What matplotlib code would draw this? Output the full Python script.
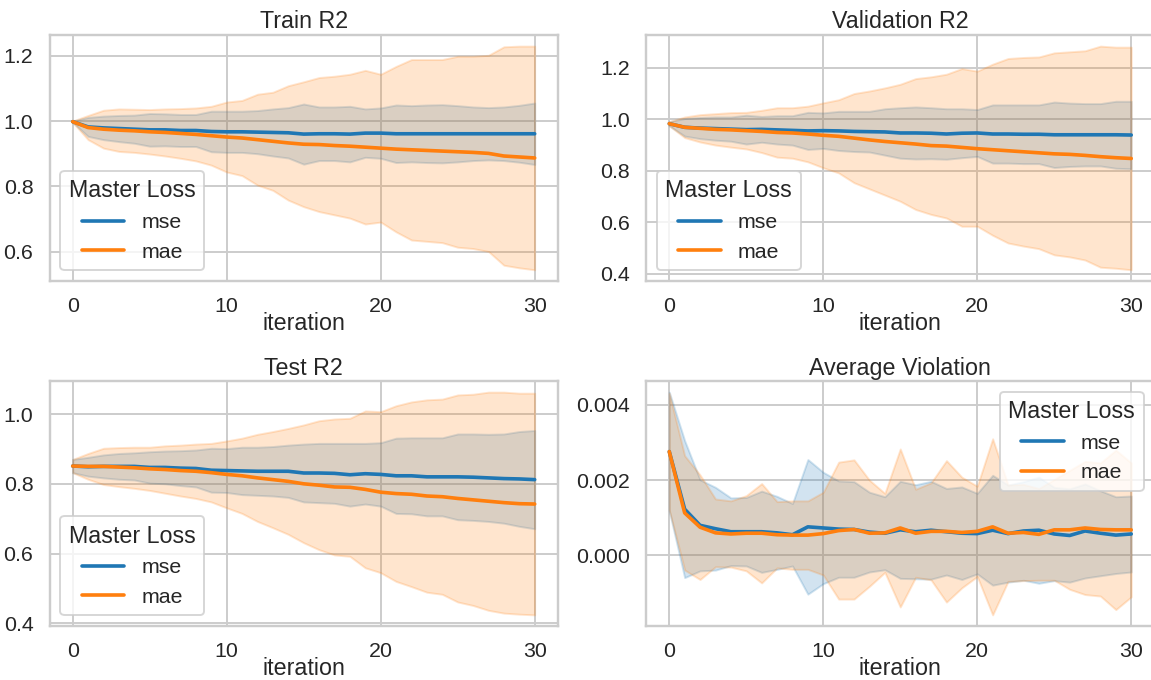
import matplotlib
matplotlib.use("Agg")
import matplotlib.pyplot as plt
import numpy as np
import seaborn as sns


iteration = np.arange(31)

# mean and standard deviation over runs, per master loss
train_mse_mean = [0.998, 0.982, 0.979, 0.977, 0.975, 0.973, 0.973, 0.971, 0.971, 0.968, 0.967,
                  0.967, 0.966, 0.965, 0.964, 0.960, 0.961, 0.961, 0.960, 0.963, 0.963,
                  0.961, 0.961, 0.961, 0.961, 0.961, 0.961, 0.961, 0.961, 0.961, 0.961]
train_mse_sd = [0.002, 0.029, 0.036, 0.040, 0.043, 0.050, 0.049, 0.049, 0.049, 0.062, 0.063,
                0.063, 0.066, 0.072, 0.077, 0.092, 0.082, 0.082, 0.085, 0.074, 0.077,
                0.088, 0.086, 0.088, 0.089, 0.086, 0.082, 0.080, 0.082, 0.087, 0.094]
train_mae_mean = [0.998, 0.980, 0.975, 0.972, 0.970, 0.967, 0.965, 0.962, 0.959, 0.955, 0.951,
                  0.948, 0.943, 0.938, 0.933, 0.929, 0.928, 0.925, 0.923, 0.920, 0.917,
                  0.914, 0.912, 0.910, 0.908, 0.906, 0.904, 0.901, 0.893, 0.890, 0.887]
train_mae_sd = [0.002, 0.037, 0.058, 0.065, 0.066, 0.068, 0.072, 0.076, 0.081, 0.090, 0.107,
                0.115, 0.139, 0.150, 0.175, 0.191, 0.205, 0.212, 0.220, 0.235, 0.226,
                0.253, 0.276, 0.278, 0.280, 0.292, 0.294, 0.300, 0.334, 0.339, 0.342]

val_mse_mean = [0.983, 0.969, 0.966, 0.964, 0.962, 0.960, 0.961, 0.959, 0.957, 0.955, 0.956,
                0.955, 0.953, 0.952, 0.951, 0.947, 0.947, 0.946, 0.943, 0.946, 0.947,
                0.943, 0.943, 0.942, 0.942, 0.940, 0.940, 0.940, 0.940, 0.940, 0.939]
val_mse_sd = [0.008, 0.034, 0.041, 0.045, 0.047, 0.056, 0.050, 0.055, 0.057, 0.072, 0.069,
              0.076, 0.078, 0.079, 0.090, 0.098, 0.101, 0.099, 0.098, 0.095, 0.091,
              0.113, 0.113, 0.114, 0.114, 0.127, 0.123, 0.121, 0.121, 0.130, 0.131]
val_mae_mean = [0.983, 0.969, 0.965, 0.961, 0.959, 0.956, 0.953, 0.949, 0.947, 0.943, 0.938,
                0.934, 0.927, 0.920, 0.914, 0.909, 0.904, 0.898, 0.896, 0.891, 0.886,
                0.882, 0.878, 0.874, 0.870, 0.866, 0.864, 0.860, 0.855, 0.851, 0.848]
val_mae_sd = [0.008, 0.040, 0.053, 0.061, 0.067, 0.071, 0.082, 0.096, 0.098, 0.108, 0.126,
              0.142, 0.173, 0.190, 0.208, 0.227, 0.254, 0.267, 0.279, 0.306, 0.301,
              0.332, 0.358, 0.366, 0.372, 0.392, 0.398, 0.406, 0.429, 0.429, 0.432]

test_mse_mean = [0.851, 0.849, 0.850, 0.850, 0.850, 0.847, 0.847, 0.845, 0.844, 0.839, 0.838,
                 0.837, 0.836, 0.836, 0.836, 0.831, 0.831, 0.830, 0.826, 0.829, 0.827,
                 0.823, 0.823, 0.820, 0.820, 0.820, 0.819, 0.817, 0.815, 0.814, 0.812]
test_mse_sd = [0.019, 0.027, 0.033, 0.037, 0.039, 0.045, 0.047, 0.050, 0.053, 0.063, 0.063,
               0.068, 0.069, 0.071, 0.075, 0.083, 0.085, 0.086, 0.090, 0.087, 0.091,
               0.108, 0.109, 0.112, 0.112, 0.123, 0.124, 0.125, 0.128, 0.136, 0.141]
test_mae_mean = [0.851, 0.850, 0.850, 0.848, 0.846, 0.843, 0.841, 0.838, 0.836, 0.832, 0.827,
                 0.823, 0.817, 0.812, 0.807, 0.800, 0.796, 0.791, 0.790, 0.784, 0.776,
                 0.772, 0.770, 0.765, 0.763, 0.758, 0.754, 0.750, 0.746, 0.743, 0.742]
test_mae_sd = [0.019, 0.037, 0.052, 0.056, 0.059, 0.062, 0.068, 0.073, 0.078, 0.084, 0.096,
               0.108, 0.125, 0.138, 0.152, 0.169, 0.185, 0.195, 0.198, 0.225, 0.231,
               0.252, 0.265, 0.276, 0.280, 0.297, 0.303, 0.313, 0.317, 0.317, 0.318]

viol_mse_mean = [0.00276, 0.00123, 0.00080, 0.00071, 0.00063, 0.00063, 0.00063, 0.00060,
                 0.00055, 0.00076, 0.00073, 0.00070, 0.00069, 0.00062, 0.00059, 0.00068,
                 0.00063, 0.00067, 0.00063, 0.00059, 0.00058, 0.00067, 0.00058, 0.00065,
                 0.00067, 0.00057, 0.00053, 0.00065, 0.00059, 0.00054, 0.00057]
viol_mse_sd = [0.00158, 0.00182, 0.00121, 0.00110, 0.00090, 0.00091, 0.00108, 0.00097,
               0.00083, 0.00179, 0.00148, 0.00128, 0.00127, 0.00106, 0.00097, 0.00129,
               0.00125, 0.00130, 0.00115, 0.00123, 0.00107, 0.00146, 0.00129, 0.00131,
               0.00141, 0.00124, 0.00124, 0.00125, 0.00113, 0.00102, 0.00101]
viol_mae_mean = [0.00276, 0.00113, 0.00075, 0.00060, 0.00057, 0.00059, 0.00059, 0.00055,
                 0.00054, 0.00054, 0.00058, 0.00066, 0.00069, 0.00059, 0.00060, 0.00073,
                 0.00059, 0.00064, 0.00064, 0.00061, 0.00064, 0.00076, 0.00059, 0.00061,
                 0.00056, 0.00068, 0.00068, 0.00073, 0.00069, 0.00068, 0.00068]
viol_mae_sd = [0.00155, 0.00152, 0.00139, 0.00090, 0.00088, 0.00100, 0.00132, 0.00088,
               0.00091, 0.00091, 0.00110, 0.00182, 0.00185, 0.00141, 0.00105, 0.00210,
               0.00117, 0.00129, 0.00188, 0.00147, 0.00120, 0.00234, 0.00128, 0.00128,
               0.00122, 0.00134, 0.00158, 0.00177, 0.00177, 0.00212, 0.00178]

losses = ["mse", "mae"]
colors = ["#1f77b4", "#ff7f0e"]

sns.set_theme(context="talk", style="whitegrid")
plt.rcParams["font.family"] = ["Liberation Sans", "DejaVu Sans"]

dpi = 93
fig, axes = plt.subplots(2, 2, figsize=(1151 / dpi, 680 / dpi), dpi=dpi)

# axes boxes in figure fractions: left, bottom, width, height
positions = [
    [0.0431, 0.5868, 0.4415, 0.3618],
    [0.5614, 0.5868, 0.4415, 0.3618],
    [0.0431, 0.0794, 0.4415, 0.3603],
    [0.5614, 0.0794, 0.4415, 0.3603],
]

panels = [
    ("Train R2", train_mse_mean, train_mse_sd, train_mae_mean, train_mae_sd, "lower left"),
    ("Validation R2", val_mse_mean, val_mse_sd, val_mae_mean, val_mae_sd, "lower left"),
    ("Test R2", test_mse_mean, test_mse_sd, test_mae_mean, test_mae_sd, "lower left"),
    ("Average Violation", viol_mse_mean, viol_mse_sd, viol_mae_mean, viol_mae_sd, "upper right"),
]

for ax, pos, (title, mse_m, mse_s, mae_m, mae_s, loc) in zip(axes.flat, positions, panels):
    ax.set_position(pos)
    for name, color, m, s in zip(losses, colors, [mse_m, mae_m], [mse_s, mae_s]):
        m = np.array(m)
        s = np.array(s)
        ax.plot(iteration, m, color=color, lw=2.8, label=name)
        ax.fill_between(iteration, m - s, m + s, color=color, alpha=0.2)
    ax.set_title(title, pad=5)
    ax.set_xlabel("iteration", labelpad=-3)
    ax.set_xticks([0, 10, 20, 30])
    ax.legend(title="Master Loss", loc=loc)

axes[1, 1].yaxis.set_major_formatter(matplotlib.ticker.FormatStrFormatter("%.3f"))

fig.savefig("out.png", dpi=dpi)
